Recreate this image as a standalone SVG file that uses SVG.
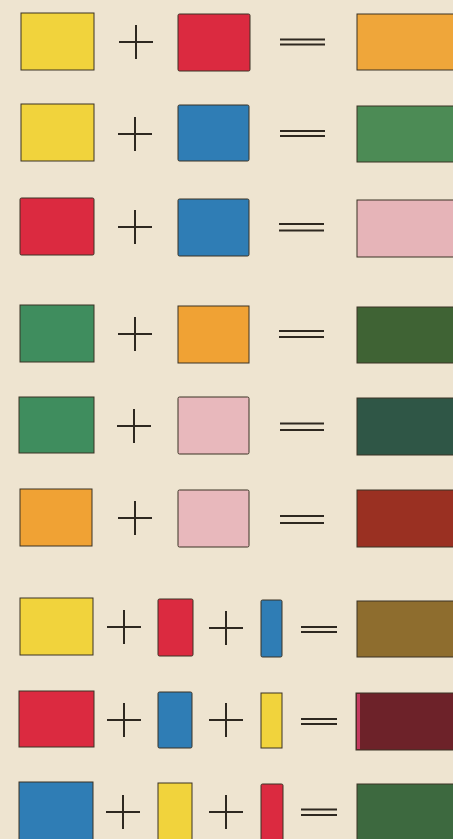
<svg xmlns="http://www.w3.org/2000/svg" width="453" height="839" viewBox="0 0 453 839">
<defs>
<style>
.sw{stroke:#3b3224;stroke-width:1}
.op{stroke:#2e2820;stroke-width:2;fill:none}
.eq{stroke:#2e2820;stroke-width:1.8;fill:none}
.y{fill:#f1d33c}.r{fill:#db2a40}.b{fill:#2f7db5}.o{fill:#f0a234}.g{fill:#3f8d5e}.p{fill:#e8b8bc}
</style>
<g id="plus"><path class="op" d="M-17 0H17M0 -17V17"/></g>
</defs>
<rect width="453" height="839" fill="#eee4d0"/>
<g id="row1">
<rect class="sw y" x="21" y="13" width="73" height="57"/>
<use href="#plus" x="136" y="42"/>
<rect class="sw r" x="178" y="14" width="72" height="57" rx="1.5"/>
<path class="eq" d="M280 39.5H325M280 44.5H325"/>
<rect class="sw" fill="#efa63a" x="357" y="14" width="100" height="56"/>
</g>
<g id="row2">
<rect class="sw y" x="21" y="104" width="73" height="57"/>
<use href="#plus" x="135" y="134"/>
<rect class="sw b" x="178" y="105" width="71" height="56" rx="1.5"/>
<path class="eq" d="M280 131H325M280 136H325"/>
<rect class="sw" fill="#4c8b55" x="357" y="106" width="100" height="56"/>
</g>
<g id="row3">
<rect class="sw r" x="20" y="198" width="74" height="57" rx="1.5"/>
<use href="#plus" x="135" y="227"/>
<rect class="sw b" x="178" y="199" width="71" height="57" rx="1.5"/>
<path class="eq" d="M279 224H324M279 230.5H324"/>
<rect class="sw" fill="#e6b4b8" x="357" y="200" width="100" height="57"/>
</g>
<g id="row4">
<rect class="sw g" x="20" y="305" width="74" height="57"/>
<use href="#plus" x="135" y="334"/>
<rect class="sw o" x="178" y="306" width="71" height="57"/>
<path class="eq" d="M279 331H324M279 337H324"/>
<rect class="sw" fill="#3f6334" x="357" y="307" width="100" height="56"/>
</g>
<g id="row5">
<rect class="sw g" x="19" y="397" width="75" height="56"/>
<use href="#plus" x="134" y="426"/>
<rect class="sw p" x="178" y="397" width="71" height="57" rx="1.5"/>
<path class="eq" d="M280 423.5H324M280 430H324"/>
<rect class="sw" fill="#2f5646" x="357" y="398" width="100" height="57"/>
</g>
<g id="row6">
<rect class="sw o" x="20" y="489" width="72" height="57"/>
<use href="#plus" x="135" y="518"/>
<rect class="sw p" x="178" y="490" width="71" height="57" rx="1.5"/>
<path class="eq" d="M280 516H324M280 523H324"/>
<rect class="sw" fill="#9a3022" x="357" y="490" width="100" height="57"/>
</g>
<g id="row7">
<rect class="sw y" x="20" y="598" width="73" height="57"/>
<use href="#plus" x="124" y="627"/>
<rect class="sw r" x="158" y="599" width="35" height="57" rx="1.5"/>
<use href="#plus" x="226" y="628"/>
<rect class="sw b" x="261" y="600" width="21" height="57" rx="1.5"/>
<path class="eq" d="M301 627H337M301 632H337"/>
<rect class="sw" fill="#8e6d2e" x="357" y="601" width="100" height="56"/>
</g>
<g id="row8">
<rect class="sw r" x="19" y="691" width="75" height="56"/>
<use href="#plus" x="124" y="720"/>
<rect class="sw b" x="158" y="692" width="34" height="56" rx="1.5"/>
<use href="#plus" x="226" y="720"/>
<rect class="sw y" x="261" y="693" width="21" height="55"/>
<path class="eq" d="M301 719H337M301 724H337"/>
<rect class="sw" fill="#6d2229" x="356" y="693" width="100" height="57"/>
<rect fill="#c43a60" x="357" y="694" width="3" height="55"/>
</g>
<g id="row9">
<rect class="sw b" x="19" y="782" width="74" height="60"/>
<use href="#plus" x="123" y="812"/>
<rect class="sw y" x="158" y="783" width="34" height="60"/>
<use href="#plus" x="226" y="812"/>
<rect class="sw r" x="261" y="784" width="22" height="60" rx="1.5"/>
<path class="eq" d="M301 809.5H337M301 815H337"/>
<rect class="sw" fill="#3d693f" x="357" y="784" width="100" height="60"/>
</g>
</svg>
